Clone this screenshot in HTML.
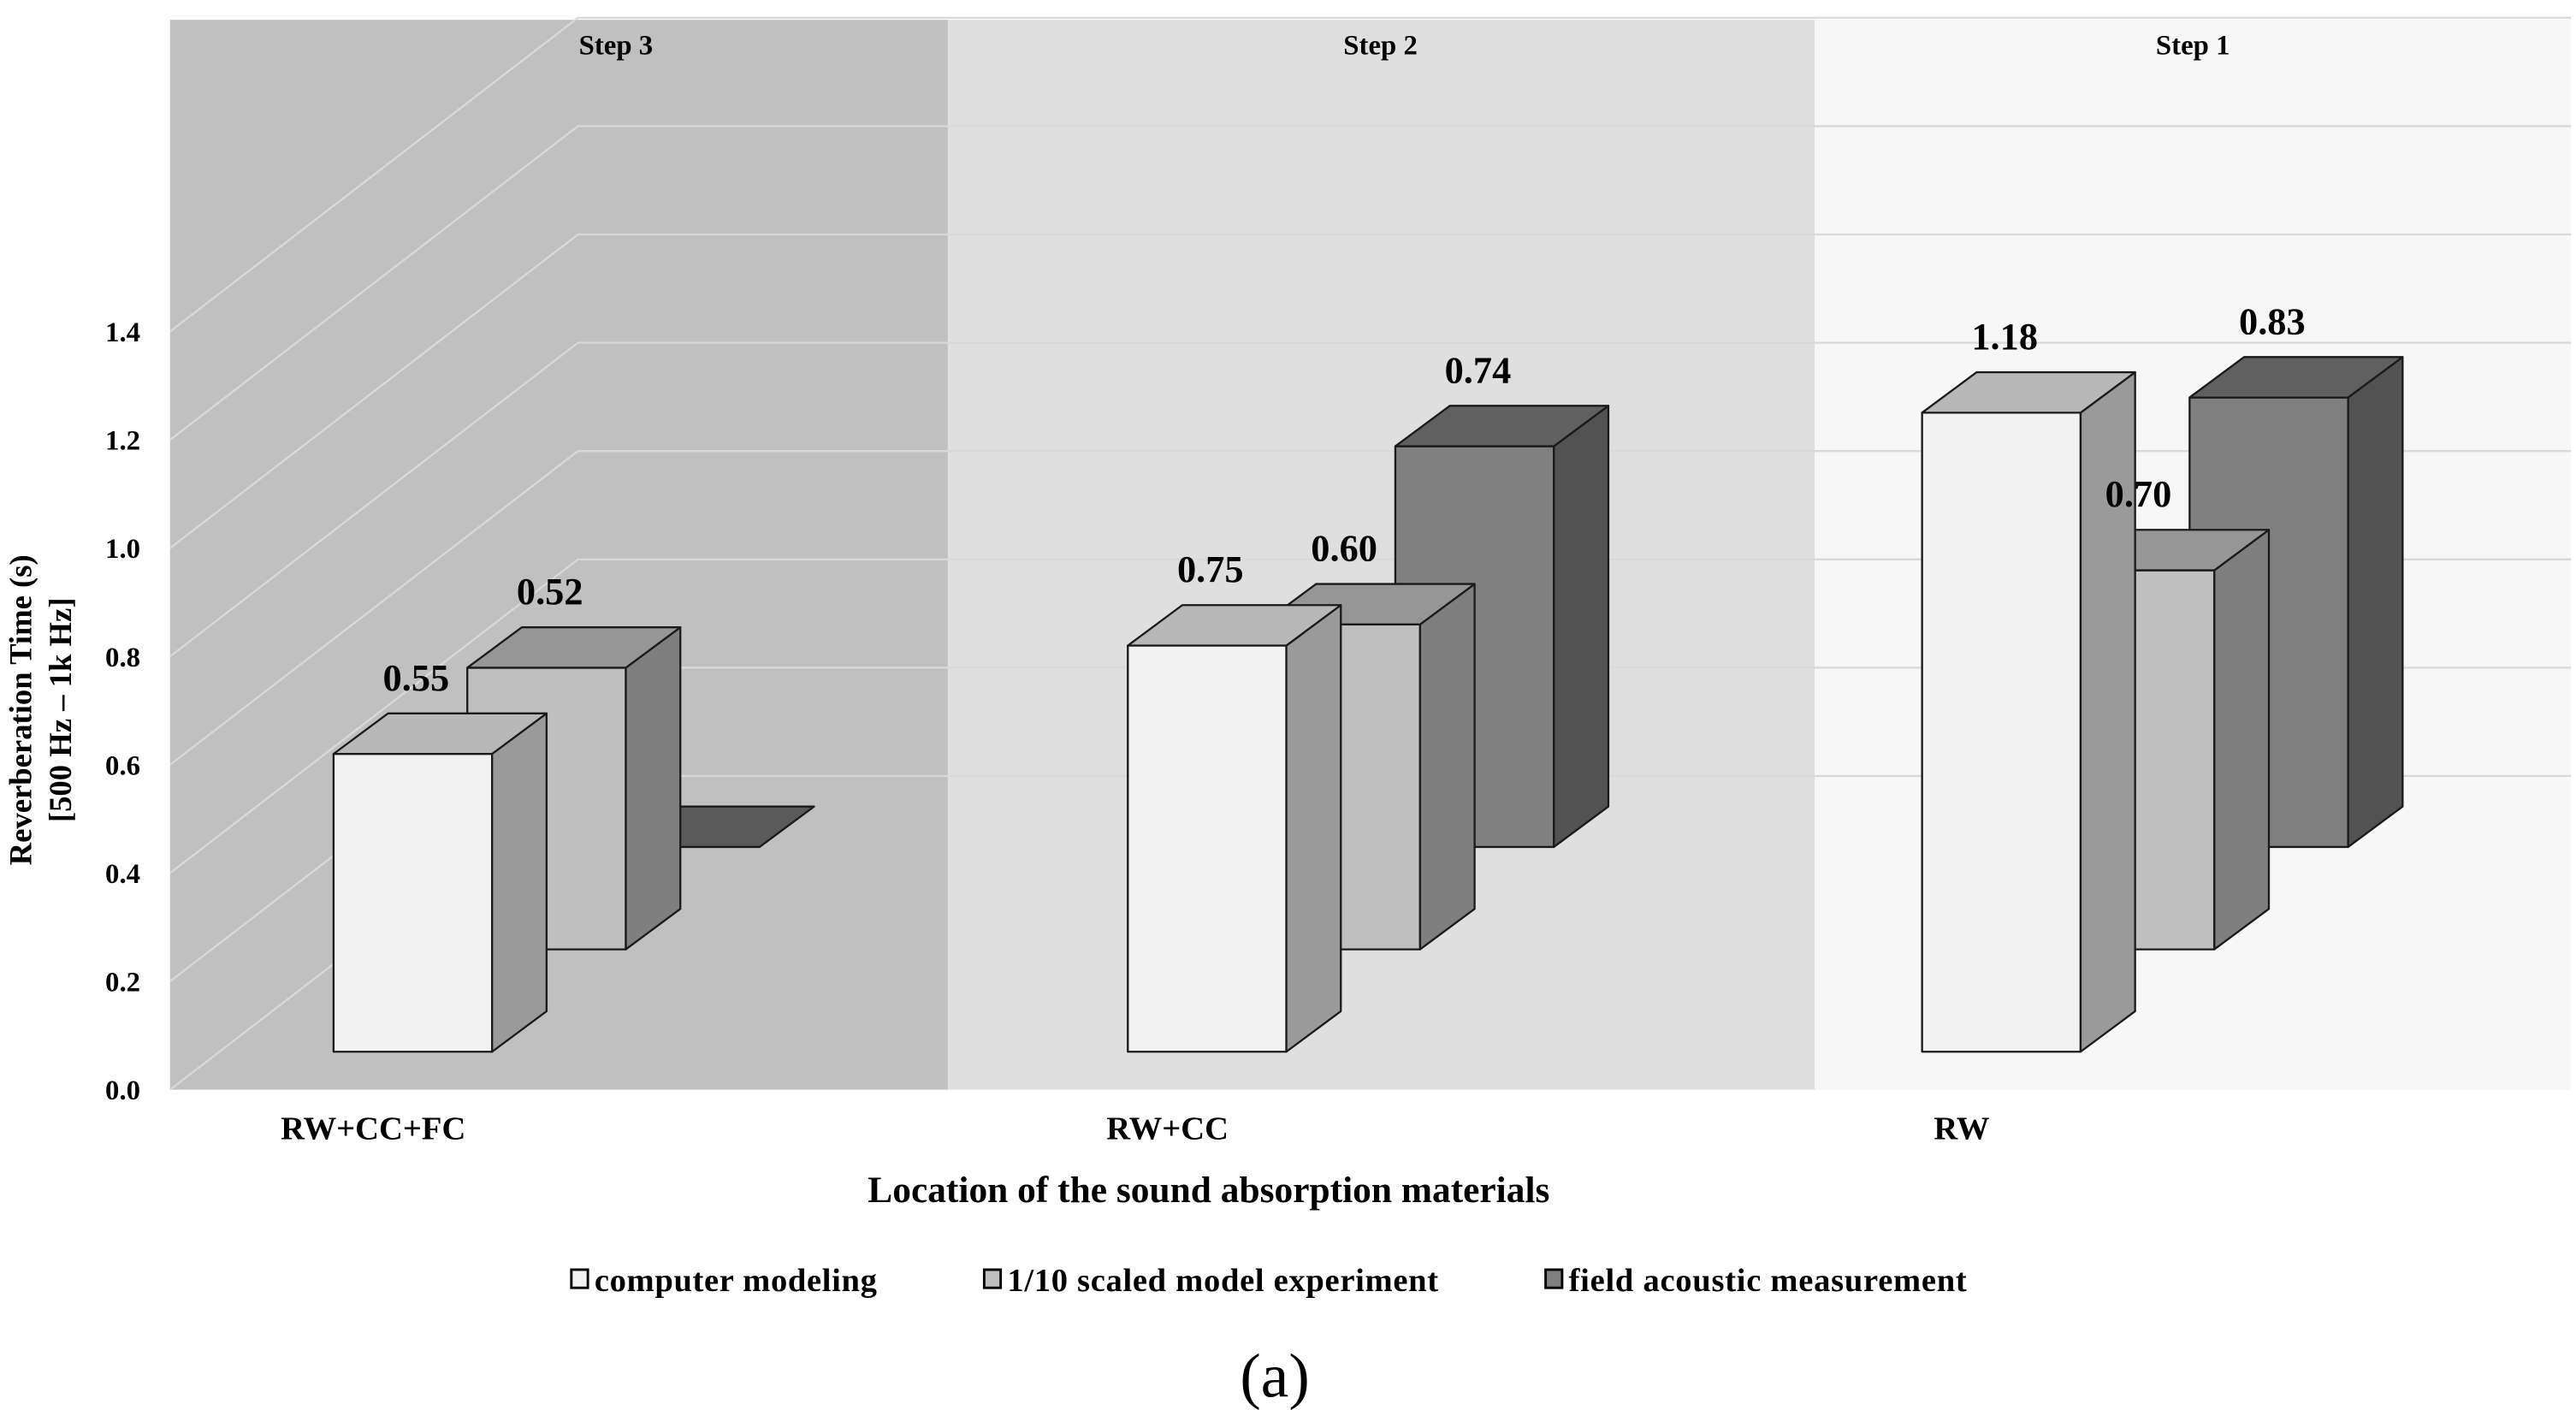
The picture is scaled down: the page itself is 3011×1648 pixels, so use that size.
<!DOCTYPE html>
<html><head><meta charset="utf-8"><style>
html,body{margin:0;padding:0;background:#fff;}
svg{display:block;}
text{font-family:"Liberation Serif",serif;font-weight:bold;fill:#000;}
</style></head><body>
<svg id="chart" width="3011" height="1648" viewBox="0 0 1560 854" preserveAspectRatio="none" xmlns="http://www.w3.org/2000/svg">
<rect x="103" y="12" width="471" height="648" fill="#c0c0c0"/>
<rect x="574" y="12" width="525" height="648" fill="#dfdfdf"/>
<rect x="1099" y="12" width="458" height="648" fill="#f7f7f7"/>
<g id="grid"></g>
<text x="373" y="33" font-size="17" text-anchor="middle">Step 3</text>
<text x="836" y="33" font-size="17" text-anchor="middle">Step 2</text>
<text x="1328" y="33" font-size="17" text-anchor="middle">Step 1</text>
<g id="yticks"></g>
<g id="bars"></g>
<g id="labels"></g>
<g id="xlabels"></g>
<text transform="translate(19,430) rotate(-90)" font-size="19" text-anchor="middle">Reverberation Time (s)</text>
<text transform="translate(43,430) rotate(-90)" font-size="19" text-anchor="middle">[500 Hz – 1k Hz]</text>
<text x="732" y="728" font-size="22.5" text-anchor="middle">Location of the sound absorption materials</text>
<g>
<g><rect x="346" y="769" width="10" height="11" fill="#f2f2f2" stroke="#000" stroke-width="1.5"/><text x="360" y="782" font-size="20" textLength="171">computer modeling</text></g>
<g><rect x="596" y="769" width="10" height="11" fill="#bfbfbf" stroke="#000" stroke-width="1.5"/><text x="610" y="782" font-size="20" textLength="261">1/10 scaled model experiment</text></g>
<g><rect x="936" y="769" width="10" height="11" fill="#808080" stroke="#000" stroke-width="1.5"/><text x="950" y="782" font-size="20" textLength="241">field acoustic measurement</text></g>
</g>
<text x="772" y="846" font-size="38" style="font-weight:normal" text-anchor="middle">(a)</text>
</svg>
<script>
const categories = ["RW+CC+FC", "RW+CC", "RW"];
const seriesNames = ["computer modeling", "1/10 scaled model experiment", "field acoustic measurement"];
const computerModeling = [0.55, 0.75, 1.18];
const scaledModel = [0.52, 0.60, 0.70];
const fieldMeasurement = [0, 0.74, 0.83];
const valueLabels = [["0.55","0.75","1.18"],["0.52","0.60","0.70"],["","0.74","0.83"]];
const yTicks = [0.0, 0.2, 0.4, 0.6, 0.8, 1.0, 1.2, 1.4];

const NS = "http://www.w3.org/2000/svg";
const series = [computerModeling, scaledModel, fieldMeasurement];
const colors = [
  {front:"#f2f2f2", top:"#b8b8b8", side:"#9a9a9a"},
  {front:"#bfbfbf", top:"#969696", side:"#7f7f7f"},
  {front:"#808080", top:"#606060", side:"#525252"}
];
const PX_PER_UNIT = 328;
function yFront(v){ return 660 - v*PX_PER_UNIT; }
function xCat(i){ return 202 + i*481; }
const SER_DX = 81, SER_DY = -62, BW = 96, DX = 33, DY = -24.5, BASE0 = 637;
function el(tag, attrs, parent){ const e=document.createElementNS(NS,tag); for(const k in attrs) e.setAttribute(k,attrs[k]); parent.appendChild(e); return e; }

const grid = document.getElementById("grid");
yTicks.forEach(function(t){
  const yf = yFront(t), yb = yf - 190;
  const p = el("polyline",{points:"103,"+yf+" 350,"+yb+" 1557,"+yb, fill:"none", stroke:"#d9d9d9", "stroke-width":"1.2"}, grid);
  
  
});
const yt = document.getElementById("yticks");
yTicks.forEach(function(t){
  const tx = el("text",{x:"85", y:String(yFront(t)+6), "font-size":"17", "text-anchor":"end"}, yt);
  tx.textContent = t.toFixed(1);
  
  
});

const bars = document.getElementById("bars");
const labels = document.getElementById("labels");
for (let j = series.length-1; j >= 0; j--) {
  for (let i = 0; i < categories.length; i++) {
    const v = series[j][i];
    const x = xCat(i) + j*SER_DX, base = BASE0 + j*SER_DY, top = base - v*PX_PER_UNIT;
    const g = el("g",{}, bars);
    
    
    const c = colors[j], st = {stroke:"#1a1a1a", "stroke-width":"1.2", "stroke-linejoin":"round"};
    if (v > 0) {
      el("rect",Object.assign({x:x, y:top, width:BW, height:base-top, fill:c.front}, st), g);
      el("polygon",Object.assign({points:(x+BW)+","+top+" "+(x+BW+DX)+","+(top+DY)+" "+(x+BW+DX)+","+(base+DY)+" "+(x+BW)+","+base, fill:c.side}, st), g);
      el("polygon",Object.assign({points:x+","+top+" "+(x+DX)+","+(top+DY)+" "+(x+BW+DX)+","+(top+DY)+" "+(x+BW)+","+top, fill:c.top}, st), g);
    } else {
      el("polygon",Object.assign({points:x+","+top+" "+(x+DX)+","+(top+DY)+" "+(x+BW+DX)+","+(top+DY)+" "+(x+BW)+","+top, fill:"#5a5a5a"}, st), g);
    }
    if (valueLabels[j][i]) {
      const t = el("text",{x:String(x+50), y:String(top+DY-14), "font-size":"23", "text-anchor":"middle"}, labels);
      t.textContent = valueLabels[j][i];
      
      
    }
  }
}
const xl = document.getElementById("xlabels");
categories.forEach(function(c,i){
  const t = el("text",{x:String(xCat(i)+24), y:"690", "font-size":"20", "text-anchor":"middle"}, xl);
  t.textContent = c;
  
  
});
</script>
</body></html>
